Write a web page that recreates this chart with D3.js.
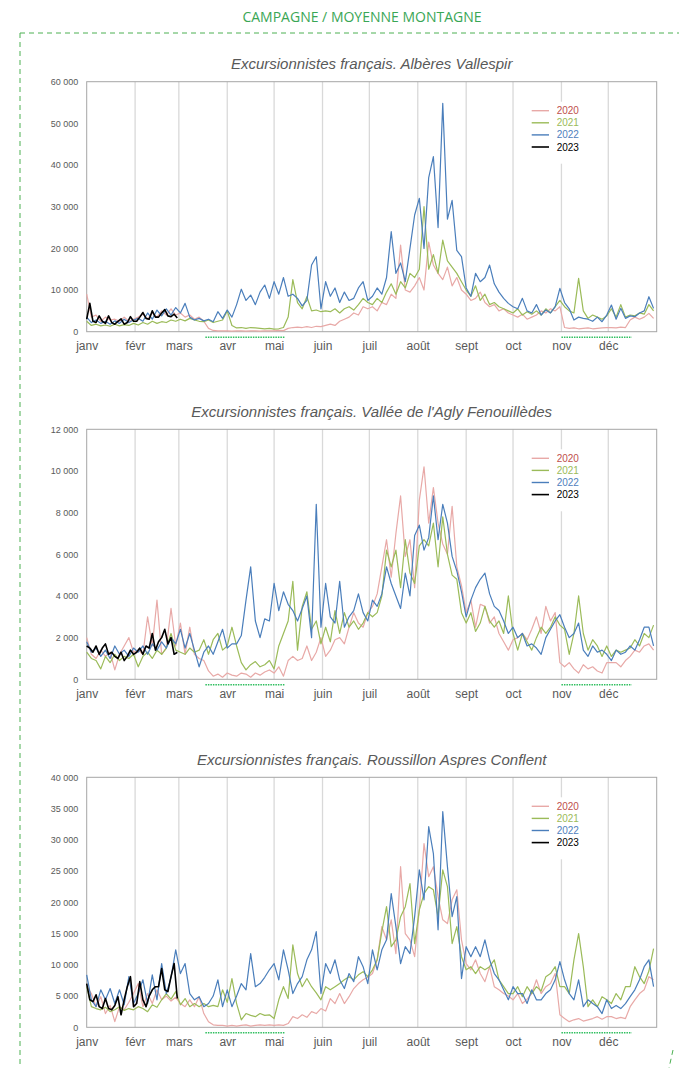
<!DOCTYPE html>
<html>
<head>
<meta charset="utf-8">
<script src="https://cdn.jsdelivr.net/npm/d3@7"></script>
<style>
body { margin: 0; background: #fff; }
svg text { font-family: "Liberation Sans", Arial, sans-serif; }
</style>
</head>
<body>
<svg id="chart" width="679" height="1070"></svg>
<script>
// valeurs, en milliers d'excursionnistes
// un point tous les 3 jours (2020-2022), tous les 2 jours pour 2023
var dayStep = 3, dayStep2023 = 2;

var years = ["2020", "2021", "2022", "2023"];
var lineColors = ["#e8a9a7", "#9bbb59", "#4a7ebb", "#000000"];
var textColors = ["#c0504d", "#9bbb59", "#4f81bd", "#000000"];
var months = ["janv", "févr", "mars", "avr", "mai", "juin", "juil", "août", "sept", "oct", "nov", "déc"];
var lockdowns = [["03-18", "05-08"], ["11-01", "12-16"]];

var albere_2020 = [
  9.0, 3.5, 4.0, 2.5, 3.5, 2.8, 3.0, 2.5, 3.5, 2.5, 3.0,
  3.5, 4.2, 3.0, 4.5, 3.5, 5.0, 4.0, 5.5, 4.0,
  4.5, 3.5, 4.0, 3.0, 3.5, 2.5, 0.8, 0.3, 0.2, 0.2,
  0.2, 0.15, 0.2, 0.2, 0.15, 0.2, 0.2, 0.15, 0.2, 0.2,
  0.2, 0.3, 0.25, 0.8, 1.0, 1.1, 1.0, 1.2, 1.0, 1.3, 1.2,
  1.5, 1.8, 1.5, 2.5, 3.0, 3.5, 4.5, 4.0, 6.0, 5.5,
  6.0, 5.0, 7.0, 6.5, 9.0, 8.0, 20.8, 10.0, 9.5, 11.0,
  13.0, 10.0, 21.5, 16.0, 14.0, 12.5, 15.5, 11.0, 13.0, 10.0,
  9.0, 7.5, 8.0, 9.5, 7.0, 6.0, 6.5, 5.0, 5.5, 4.5,
  4.0, 3.5, 4.2, 3.0, 3.5, 4.0, 5.0, 4.5, 5.5, 5.0, 6.0,
  1.0, 0.8, 0.9, 0.7, 0.8, 0.9, 0.7, 0.8, 0.9, 1.0,
  1.0, 0.9, 1.1, 1.0, 2.8, 3.5, 3.0, 3.5, 4.4, 3.2];
var albere_2021 = [
  2.5, 1.5, 1.8, 1.4, 1.6, 1.3, 1.8, 1.4, 1.7, 1.5, 2.0,
  1.6, 2.2, 1.8, 2.5, 2.0, 2.4, 2.2, 2.8, 2.5,
  3.0, 2.6, 3.2, 2.8, 2.5, 2.4, 2.8, 2.2, 2.5, 2.8,
  5.0, 1.5, 0.9, 1.0, 0.8, 1.0, 0.9, 0.8, 0.7, 0.8,
  0.6, 0.7, 1.0, 3.5, 12.5, 7.0, 5.5, 8.4, 5.0, 5.2, 4.8,
  5.0, 4.8, 5.5, 4.5, 5.5, 6.0, 5.2, 6.5, 8.0, 7.0,
  6.5, 8.0, 7.0, 9.5, 11.5, 9.0, 12.0, 10.5, 14.0, 13.0,
  15.0, 30.0, 15.0, 18.5, 14.0, 22.0, 17.0, 15.5, 14.0, 12.0,
  10.0, 8.5, 11.0, 7.5, 9.0, 6.5, 7.0, 6.0, 5.5, 5.0,
  4.5, 5.5, 4.0, 4.8, 4.2, 5.0, 4.0, 5.5, 4.5, 6.0, 7.5,
  6.0, 5.0, 4.5, 12.8, 5.0, 3.2, 4.0, 3.5, 3.0, 3.8,
  5.5, 3.5, 6.5, 3.5, 4.0, 3.8, 4.5, 4.2, 6.5, 5.0];
var albere_2022 = [
  3.5, 2.2, 2.8, 2.0, 2.5, 1.8, 2.6, 2.0, 3.0, 2.2, 2.8,
  3.2, 2.5, 4.5, 3.0, 5.2, 3.8, 5.5, 4.0, 5.8,
  4.5, 6.8, 3.5, 2.8, 3.2, 2.6, 3.0, 2.4, 4.8, 3.2,
  5.2, 3.5, 6.5, 10.2, 7.5, 8.8, 6.5, 9.5, 11.2, 8.0,
  12.0, 9.0, 13.0, 8.5, 9.0, 8.0, 6.2, 7.5, 16.0, 18.0, 5.5,
  12.0, 8.5, 10.5, 7.0, 9.5, 7.5, 8.0, 10.5, 12.0, 7.5,
  8.5, 10.5, 9.0, 13.0, 24.0, 14.0, 16.5, 12.0, 20.0, 28.0,
  32.0, 20.0, 37.0, 42.0, 25.0, 54.8, 27.0, 31.5, 19.5, 18.0,
  10.5, 8.5, 14.0, 12.0, 13.0, 16.0, 11.5, 9.5, 8.0, 6.8,
  6.0, 5.5, 8.0, 5.0, 4.5, 6.5, 4.0, 5.2, 4.5, 6.0, 10.4,
  7.0, 5.5, 2.8, 3.5, 3.2, 3.0, 2.5, 3.5, 2.4, 4.0,
  6.4, 3.0, 5.6, 3.2, 3.8, 3.6, 4.5, 5.0, 8.4, 5.6];
var albere_2023 = [
  3.0, 6.8, 2.5, 2.2, 3.8, 2.5, 2.0, 3.8, 2.2, 1.8, 2.5, 3.1, 1.8, 2.2, 3.6,
  2.5, 2.5, 3.5, 4.6, 3.2, 3.0, 5.0, 3.5, 3.5, 4.5, 5.3, 3.8, 3.6, 4.2, 3.3];

var agly_2020 = [
  2.0, 1.2, 1.0, 1.4, 1.1, 1.3, 0.45, 1.2, 1.6, 2.0, 1.3,
  1.4, 1.2, 3.0, 1.6, 3.8, 1.2, 1.5, 3.4, 1.6,
  2.7, 1.2, 2.5, 1.2, 1.0, 0.9, 0.4, 0.15, 0.25, 0.1,
  0.3, 0.2, 0.15, 0.3, 0.25, 0.1, 0.3, 0.2, 0.35, 0.45,
  0.3, 0.6, 0.15, 0.9, 1.1, 0.9, 1.0, 1.6, 0.9, 1.3, 2.0,
  1.1, 1.4, 1.9, 2.0, 1.7, 2.5, 3.2, 2.7, 2.5, 3.2,
  3.5, 4.1, 5.4, 6.7, 4.9, 7.0, 8.8, 5.9, 6.7, 4.4,
  8.6, 10.2, 7.5, 9.2, 7.5, 6.5, 6.0, 8.3, 5.4, 4.5,
  3.2, 3.8, 2.5, 3.6, 3.5, 2.7, 3.0, 2.2, 1.8, 1.4,
  1.9, 2.0, 2.2, 1.9, 2.4, 3.0, 2.2, 3.5, 2.8, 3.2, 0.8,
  0.6, 0.8, 0.5, 0.3, 0.7, 0.5, 0.6, 0.4, 0.3, 0.8,
  0.8, 0.8, 0.6, 0.9, 1.1, 1.4, 1.3, 1.6, 1.7, 1.4];
var agly_2021 = [
  1.3, 1.0, 0.9, 0.5, 1.1, 0.8, 1.2, 0.9, 1.1, 1.0, 1.2,
  0.6, 1.1, 1.3, 1.0, 1.4, 1.2, 1.5, 2.2, 1.4,
  1.3, 1.2, 1.5, 1.3, 1.4, 1.9, 1.2, 1.9, 2.2, 1.4,
  1.6, 2.5, 1.6, 0.8, 0.45, 0.7, 0.85, 0.6, 0.7, 0.9,
  0.5, 1.6, 2.2, 2.8, 4.7, 1.4, 3.5, 4.2, 2.4, 2.8, 1.7,
  2.5, 1.8, 3.3, 2.2, 3.2, 2.5, 2.8, 2.4, 2.7, 3.2,
  3.0, 3.2, 4.0, 6.2, 5.4, 6.2, 4.4, 6.7, 5.1, 4.6,
  6.4, 6.7, 6.4, 7.5, 5.4, 7.8, 6.0, 5.0, 4.8, 3.2,
  2.7, 3.2, 2.3, 2.7, 3.5, 2.8, 2.5, 2.8, 2.2, 4.0,
  2.2, 1.4, 2.2, 1.8, 1.4, 2.0, 2.5, 2.2, 2.5, 3.0, 2.6,
  2.4, 1.2, 2.2, 4.0, 2.2, 1.4, 1.9, 1.6, 1.1, 1.6,
  1.1, 1.4, 1.3, 1.4, 1.5, 1.9, 1.6, 2.2, 2.0, 2.6];
var agly_2022 = [
  1.8, 1.3, 1.5, 1.1, 1.4, 1.0, 1.6, 1.2, 1.4, 1.1, 1.5,
  1.3, 1.6, 1.2, 1.7, 1.4, 1.8, 1.5, 2.0, 1.7,
  2.4, 1.5, 2.2, 1.4, 0.6, 1.3, 1.6, 1.2, 1.8, 2.4,
  1.5, 1.7, 1.7, 2.1, 3.8, 5.4, 2.8, 2.0, 2.9, 2.8,
  4.6, 3.3, 4.2, 3.6, 3.3, 2.8, 3.4, 4.0, 2.0, 8.4, 2.5,
  4.6, 3.0, 2.7, 4.7, 2.5, 3.0, 3.3, 4.1, 3.2, 2.8,
  3.8, 3.5, 4.1, 5.4, 4.6, 4.0, 3.4, 5.1, 4.0, 6.9,
  7.4, 6.2, 6.8, 8.8, 6.7, 8.4, 7.5, 5.9, 5.2, 4.2,
  3.0, 3.8, 4.4, 4.8, 5.1, 4.1, 3.5, 3.3, 2.8, 2.2,
  2.5, 2.0, 2.2, 1.6, 1.7, 1.5, 1.2, 2.0, 2.4, 2.8, 3.1,
  2.5, 2.0, 2.2, 2.7, 1.4, 1.1, 1.6, 1.3, 1.4, 1.2,
  0.9, 1.4, 1.2, 1.3, 1.6, 1.4, 1.9, 2.5, 2.5, 1.6];
var agly_2023 = [
  1.6, 1.5, 1.3, 1.6, 1.2, 1.5, 1.7, 1.2, 1.3, 1.1, 1.0, 1.3, 0.9, 1.1, 1.4,
  1.2, 1.3, 1.5, 1.2, 1.6, 1.5, 2.2, 1.4, 1.8, 2.0, 2.4, 1.7, 2.0, 1.2, 1.3];

var roussillon_2020 = [
  6.5, 5.4, 3.3, 4.9, 2.2, 3.5, 0.9, 3.3, 2.8, 4.0, 5.4,
  7.0, 3.3, 5.4, 3.8, 6.0, 4.4, 5.0, 4.2, 4.8,
  3.8, 3.3, 4.4, 3.3, 4.9, 2.2, 0.9, 0.4, 0.3, 0.3,
  0.2, 0.3, 0.2, 0.3, 0.4, 0.2, 0.3, 0.4, 0.3, 0.4,
  0.3, 0.4, 0.3, 0.6, 1.7, 1.4, 2.0, 1.6, 2.5, 2.2, 3.0,
  2.6, 4.6, 3.8, 5.4, 3.8, 4.9, 6.2, 7.0, 7.6, 8.0,
  8.6, 10.8, 16.1, 14.0, 17.2, 11.8, 25.7, 15.0, 14.0, 11.3,
  18.8, 29.4, 24.1, 25.7, 20.9, 17.2, 16.6, 20.4, 22.0, 14.0,
  10.2, 9.2, 10.8, 8.6, 7.3, 9.7, 6.5, 6.0, 5.4, 5.0,
  4.4, 5.4, 3.8, 4.5, 5.4, 7.6, 5.4, 6.5, 7.0, 8.6, 2.0,
  1.4, 0.9, 1.2, 1.4, 1.0, 1.2, 1.4, 1.7, 1.3, 1.7,
  1.7, 1.4, 1.6, 1.4, 3.3, 4.4, 5.4, 6.0, 8.1, 7.6];
var roussillon_2021 = [
  6.5, 3.3, 3.0, 2.8, 3.2, 2.5, 2.8, 3.3, 2.7, 3.0, 2.8,
  3.3, 3.0, 2.5, 3.6, 3.2, 4.4, 5.4, 4.5, 5.7,
  3.6, 4.6, 3.3, 3.8, 3.3, 3.8, 3.3, 3.5, 3.3, 6.0,
  4.0, 7.8, 3.8, 1.2, 2.2, 1.9, 1.7, 2.2, 1.9, 2.0,
  1.4, 4.4, 6.5, 4.6, 13.2, 8.6, 6.5, 7.8, 6.5, 5.5, 4.4,
  6.5, 6.0, 6.5, 7.0, 7.6, 8.1, 7.6, 8.4, 8.9, 8.1,
  9.2, 10.8, 15.3, 19.3, 12.9, 14.0, 17.7, 19.3, 23.0, 13.4,
  18.8, 21.4, 22.5, 22.0, 17.7, 25.2, 22.5, 13.4, 16.1, 11.3,
  9.2, 9.7, 8.6, 9.7, 9.2, 9.7, 10.8, 7.6, 6.5, 5.4,
  5.4, 6.5, 4.9, 6.5, 5.4, 6.5, 5.8, 8.1, 8.6, 9.7, 6.5,
  6.5, 5.4, 10.8, 15.0, 9.7, 3.3, 4.4, 3.3, 4.9, 4.4,
  3.8, 5.4, 4.4, 6.5, 6.5, 9.7, 8.1, 7.0, 9.0, 12.6];
var roussillon_2022 = [
  8.4, 4.4, 3.3, 6.0, 4.4, 6.2, 3.8, 6.0, 3.6, 8.1, 3.8,
  5.4, 7.6, 3.8, 8.4, 4.4, 10.2, 5.4, 8.0, 12.4,
  8.6, 10.2, 5.4, 4.4, 4.9, 3.3, 3.8, 5.0, 7.6, 3.3,
  6.0, 3.3, 5.0, 7.0, 6.0, 11.8, 6.5, 7.0, 8.0, 9.2,
  10.2, 7.6, 12.4, 9.2, 5.4, 7.0, 8.1, 10.8, 12.4, 15.3, 5.4,
  10.2, 8.6, 10.8, 7.6, 6.2, 8.6, 7.3, 11.3, 9.7, 7.0,
  12.4, 9.2, 12.4, 14.0, 21.4, 16.1, 10.2, 12.9, 11.8, 17.7,
  25.2, 20.4, 32.1, 27.8, 15.6, 34.5, 25.7, 17.7, 20.9, 7.8,
  12.9, 11.3, 12.9, 11.3, 14.0, 10.8, 8.6, 7.6, 6.0, 4.4,
  6.5, 5.4, 5.4, 3.8, 6.0, 4.4, 4.4, 5.4, 6.0, 7.6, 10.5,
  7.6, 5.4, 4.4, 7.6, 3.3, 4.4, 3.8, 3.3, 2.2, 4.4,
  3.0, 3.5, 3.0, 3.8, 4.9, 6.0, 7.6, 9.7, 10.8, 6.5];
var roussillon_2023 = [
  7.0, 4.4, 4.1, 5.2, 3.3, 3.0, 4.6, 3.0, 2.8, 3.5, 4.9, 2.0, 4.4, 6.5, 8.1,
  3.3, 3.8, 7.3, 4.4, 3.3, 5.0, 6.0, 6.5, 6.5, 9.4, 6.0, 5.7, 8.1, 10.2, 4.6];

var panels = [
  {title: "Excursionnistes français. Albères Vallespir", top: 81.7, max: 60000, tick: 10000,
   series: [albere_2020, albere_2021, albere_2022, albere_2023]},
  {title: "Excursionnistes français. Vallée de l'Agly Fenouillèdes", top: 429.3, max: 12000, tick: 2000,
   series: [agly_2020, agly_2021, agly_2022, agly_2023]},
  {title: "Excursionnistes français. Roussillon Aspres Conflent", top: 777.3, max: 40000, tick: 5000,
   series: [roussillon_2020, roussillon_2021, roussillon_2022, roussillon_2023]}
];

var plotLeft = 86.7, plotRight = 656.7, plotHeight = 250;
var refYear = 2021; // année "neutre" pour l'axe janv-déc
var yearStart = new Date(refYear, 0, 1);

var x = d3.scaleTime()
  .domain([yearStart, new Date(refYear + 1, 0, 1)])
  .range([plotLeft, plotRight]);

var fmt = d3.formatLocale({decimal: ",", thousands: "\u00a0", grouping: [3], currency: ["", "€"]}).format(",d");

function toPoints(values, step) {
  return values.map(function(v, i) {
    return {date: d3.timeDay.offset(yearStart, i * step), value: v * 1000};
  });
}

function mmdd(s) { return d3.timeParse("%Y-%m-%d")(refYear + "-" + s); }

var svg = d3.select("#chart");

// cadre pointillé vert + titre de section
svg.append("text")
  .attr("x", 362).attr("y", 22)
  .attr("text-anchor", "middle")
  .style("font-family", "'Open Sans', 'Noto Sans', sans-serif")
  .style("font-size", "14px")
  .attr("fill", "#3aa655")
  .text("CAMPAGNE / MOYENNE MONTAGNE");

var frame = svg.append("g")
  .attr("stroke", "#4cb052")
  .attr("stroke-width", 1)
  .attr("stroke-dasharray", "5,4")
  .attr("fill", "none");
frame.append("line").attr("x1", 20).attr("y1", 33).attr("x2", 679).attr("y2", 33);
frame.append("line").attr("x1", 20).attr("y1", 33).attr("x2", 20).attr("y2", 1068);
frame.append("line").attr("x1", 673).attr("y1", 1050).attr("x2", 669).attr("y2", 1068);

var monthStarts = d3.timeMonth.range(yearStart, new Date(refYear + 1, 0, 1));

panels.forEach(function(p) {
  var y = d3.scaleLinear().domain([0, p.max]).range([p.top + plotHeight, p.top]);
  var g = svg.append("g").attr("class", "panel");

  // grille verticale (début de mois)
  g.selectAll(".grid")
    .data(monthStarts.slice(1))
    .join("line")
      .attr("class", "grid")
      .attr("x1", function(d) { return x(d); })
      .attr("x2", function(d) { return x(d); })
      .attr("y1", p.top)
      .attr("y2", p.top + plotHeight)
      .attr("stroke", "#d9d9d9")
      .attr("stroke-width", 1.3);

  g.append("rect")
    .attr("x", plotLeft).attr("y", p.top)
    .attr("width", plotRight - plotLeft).attr("height", plotHeight)
    .attr("fill", "none")
    .attr("stroke", "#a6a6a6")
    .attr("stroke-width", 1);

  // titre
  g.append("text")
    .attr("x", (plotLeft + plotRight) / 2)
    .attr("y", p.top - 12.5)
    .attr("text-anchor", "middle")
    .style("font-size", "15px")
    .style("font-style", "italic")
    .attr("fill", "#595959")
    .text(p.title);

  // axe Y
  var yAxis = g.append("g")
    .attr("transform", "translate(" + plotLeft + ",0)")
    .call(d3.axisLeft(y).tickValues(d3.range(0, p.max + 1, p.tick)).tickSize(0).tickPadding(8.5).tickFormat(fmt));
  yAxis.select(".domain").remove();
  yAxis.selectAll("text").style("font-size", "9px").attr("fill", "#595959");

  // axe X (mois)
  var xAxis = g.append("g")
    .attr("transform", "translate(0," + (p.top + plotHeight) + ")")
    .call(d3.axisBottom(x).tickValues(monthStarts).tickSize(0).tickPadding(10)
      .tickFormat(function(d) { return months[d.getMonth()]; }));
  xAxis.select(".domain").remove();
  xAxis.selectAll("text").style("font-size", "12px").attr("fill", "#595959");

  // périodes de confinement
  g.selectAll(".lockdown")
    .data(lockdowns)
    .join("line")
      .attr("class", "lockdown")
      .attr("x1", function(d) { return x(mmdd(d[0])); })
      .attr("x2", function(d) { return x(mmdd(d[1])); })
      .attr("y1", p.top + plotHeight + 5.5)
      .attr("y2", p.top + plotHeight + 5.5)
      .attr("stroke", "#2fbf5f")
      .attr("stroke-width", 1.5)
      .attr("stroke-dasharray", "1.5,1");

  var line = d3.line()
    .x(function(d) { return x(d.date); })
    .y(function(d) { return y(d.value); });

  // légende
  var lg = g.append("g");
  lg.append("rect")
    .attr("x", 527).attr("y", p.top + 20)
    .attr("width", 70).attr("height", 62)
    .attr("fill", "#fff");
  years.forEach(function(yr, i) {
    var ly = p.top + 29 + i * 12.1;
    lg.append("line")
      .attr("x1", 531.7).attr("x2", 549)
      .attr("y1", ly).attr("y2", ly)
      .attr("stroke", lineColors[i])
      .attr("stroke-width", i == 3 ? 1.6 : 1.4);
    lg.append("text")
      .attr("x", 556.7).attr("y", ly)
      .attr("dy", "0.35em")
      .style("font-size", "10px")
      .attr("fill", textColors[i])
      .text(yr);
  });

  // séries
  p.series.forEach(function(values, i) {
    var step = i == 3 ? dayStep2023 : dayStep;
    g.append("path")
      .datum(toPoints(values, step))
      .attr("fill", "none")
      .attr("stroke", lineColors[i])
      .attr("stroke-width", i == 3 ? 1.6 : 1.2)
      .attr("stroke-linejoin", "round")
      .attr("d", line);
  });
});
</script>
</body>
</html>
